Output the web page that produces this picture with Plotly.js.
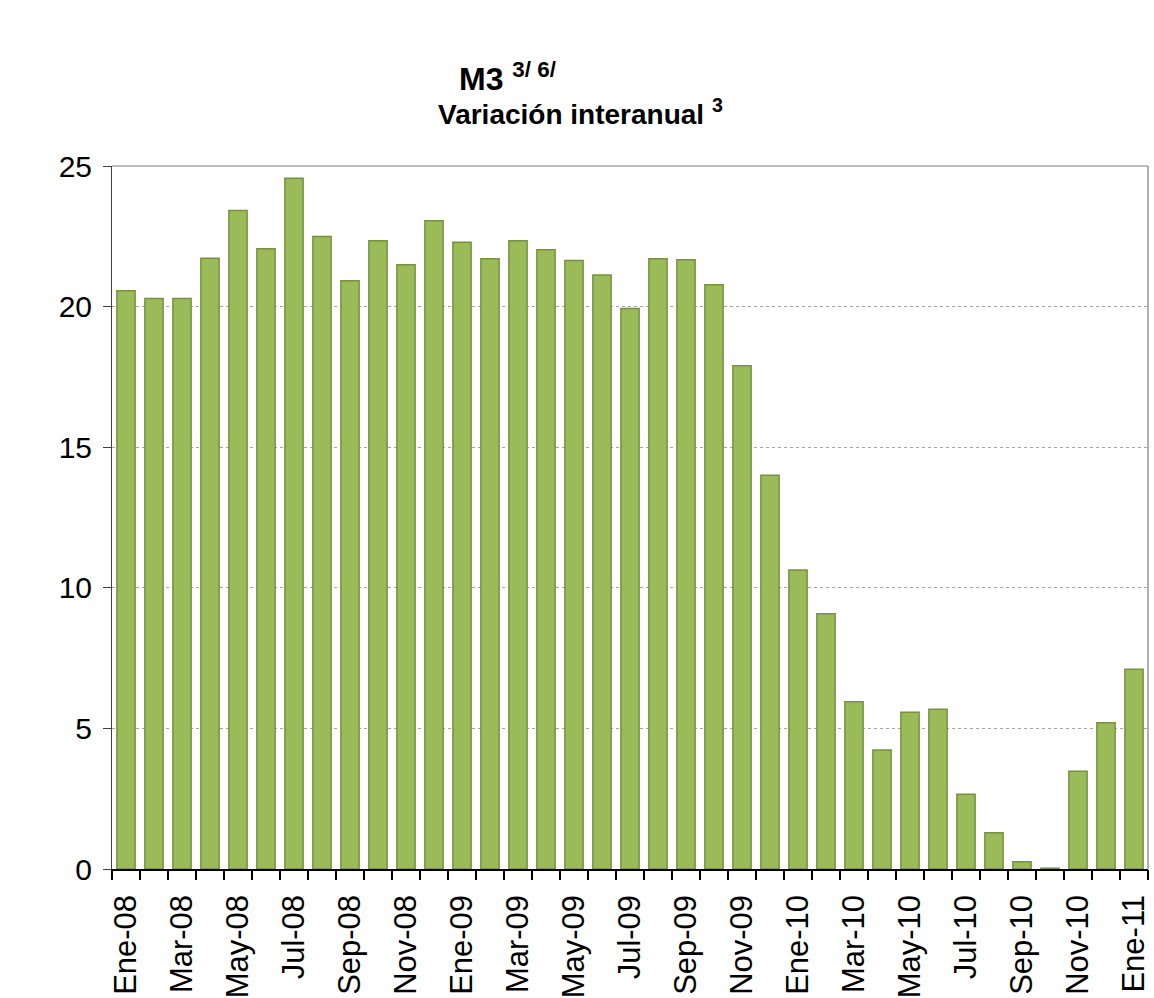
<!DOCTYPE html>
<html>
<head>
<meta charset="utf-8">
<script src="https://cdn.plot.ly/plotly-3.0.1.min.js"></script>
<style>html,body{margin:0;padding:0;background:#fff;}#chart{width:1154px;height:998px;}</style>
</head>
<body>
<div id="chart"></div>
<script>
const months = ["Ene-08","Feb-08","Mar-08","Abr-08","May-08","Jun-08","Jul-08","Ago-08","Sep-08","Oct-08","Nov-08","Dic-08",
  "Ene-09","Feb-09","Mar-09","Abr-09","May-09","Jun-09","Jul-09","Ago-09","Sep-09","Oct-09","Nov-09","Dic-09",
  "Ene-10","Feb-10","Mar-10","Abr-10","May-10","Jun-10","Jul-10","Ago-10","Sep-10","Oct-10","Nov-10","Dic-10",
  "Ene-11"];
const m3Variation = [20.56,20.29,20.29,21.72,23.42,22.06,24.56,22.49,20.92,22.34,21.49,23.05,
  22.29,21.70,22.34,22.02,21.64,21.12,19.93,21.70,21.67,20.78,17.90,14.00,
  10.63,9.08,5.95,4.23,5.57,5.68,2.66,1.29,0.26,0.03,3.48,5.20,7.10];
const tickLabels = ["Ene-08","Mar-08","May-08","Jul-08","Sep-08","Nov-08","Ene-09","Mar-09","May-09","Jul-09",
  "Sep-09","Nov-09","Ene-10","Mar-10","May-10","Jul-10","Sep-10","Nov-10","Ene-11"];
const titleLine1 = "M3 <sup>3/ 6/</sup>";
const titleLine2 = "Variación interanual <sup>3</sup>";

const boundaries = months.map((m, i) => i - 0.5).concat([months.length - 0.5]);

const data = [
  {
    type: "bar",
    x: months,
    y: m3Variation,
    marker: { color: "#9BBB59", line: { color: "#76923C", width: 1.5 } },
    hoverinfo: "x+y",
    showlegend: false
  },
  {
    type: "scatter",
    x: [0, months.length - 1],
    y: [0, 0],
    xaxis: "x2",
    yaxis: "y",
    mode: "markers",
    marker: { opacity: 0 },
    hoverinfo: "skip",
    showlegend: false
  }
];

const layout = {
  width: 1154,
  height: 998,
  margin: { l: 112, r: 6, t: 166, b: 129 },
  paper_bgcolor: "#ffffff",
  plot_bgcolor: "#ffffff",
  font: { family: "Liberation Sans, Arial, sans-serif", color: "#000000" },
  bargap: 0.35,
  xaxis: {
    type: "category",
    range: [-0.5, months.length - 0.5],
    tickmode: "array",
    tickvals: tickLabels,
    ticktext: tickLabels,
    tickangle: -90,
    ticks: "",
    ticklabelstandoff: 12,
    showline: true,
    linecolor: "#000000",
    linewidth: 1.5,
    showgrid: false,
    zeroline: false,
    tickfont: { size: 31, family: "Liberation Sans, Arial, sans-serif", color: "#000000" },
    fixedrange: true
  },
  xaxis2: {
    overlaying: "x",
    type: "linear",
    range: [-0.5, months.length - 0.5],
    tickmode: "array",
    tickvals: boundaries,
    ticks: "outside",
    ticklen: 10,
    tickwidth: 1.2,
    tickcolor: "#000000",
    showticklabels: false,
    showgrid: false,
    zeroline: false,
    showline: false,
    anchor: "y",
    side: "bottom",
    fixedrange: true
  },
  yaxis: {
    range: [0, 25],
    tickmode: "linear",
    tick0: 0,
    dtick: 5,
    ticks: "outside",
    ticklen: 8,
    tickcolor: "#404040",
    ticklabelstandoff: 5,
    showline: true,
    linecolor: "#404040",
    linewidth: 1,
    showgrid: true,
    gridcolor: "#A6A6A6",
    griddash: "dot",
    gridwidth: 1,
    zeroline: false,
    tickfont: { size: 30, family: "Liberation Sans, Arial, sans-serif", color: "#000000" },
    fixedrange: true
  },
  shapes: [
    { type: "line", xref: "paper", yref: "paper", x0: 0, x1: 1, y0: 1, y1: 1, line: { color: "#A6A6A6", width: 1.5 } },
    { type: "line", xref: "paper", yref: "paper", x0: 1, x1: 1, y0: 0, y1: 1, line: { color: "#B0B0B0", width: 2 } }
  ],
  annotations: [
    { text: titleLine1, xref: "paper", yref: "paper", x: 0.382, y: 1.127, xanchor: "center", yanchor: "middle",
      showarrow: false, font: { size: 32, family: "Liberation Sans, Arial, sans-serif", color: "#000000", weight: "bold" } },
    { text: titleLine2, xref: "paper", yref: "paper", x: 0.452, y: 1.077, xanchor: "center", yanchor: "middle",
      showarrow: false, font: { size: 28, family: "Liberation Sans, Arial, sans-serif", color: "#000000", weight: "bold" } }
  ]
};

Plotly.newPlot("chart", data, layout, { displayModeBar: false, staticPlot: true });
</script>
</body>
</html>
